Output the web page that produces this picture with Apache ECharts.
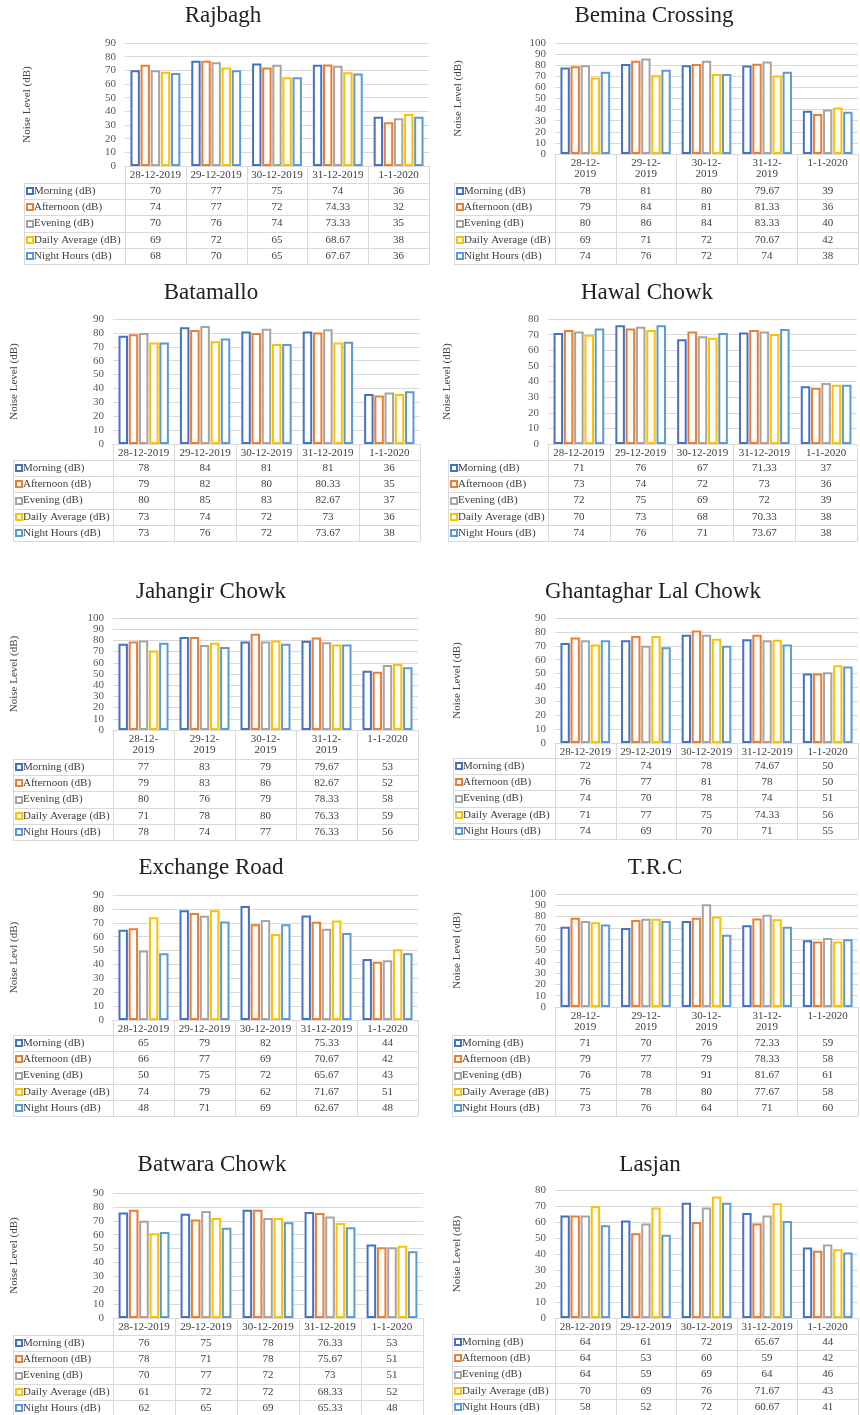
<!DOCTYPE html>
<html>
<head>
<meta charset="utf-8">
<script src="https://cdn.jsdelivr.net/npm/echarts@6/dist/echarts.min.js"></script>
<style>
  html, body { margin: 0; padding: 0; background: #ffffff; }
  #chart { width: 860px; height: 1415px; }
</style>
</head>
<body>
<div id="chart"></div>
<script>
// ---- data ---------------------------------------------------------------
const categories = ['28-12-2019', '29-12-2019', '30-12-2019', '31-12-2019', '1-1-2020'];
const seriesNames = ['Morning (dB)', 'Afternoon (dB)', 'Evening (dB)', 'Daily Average (dB)', 'Night Hours (dB)'];
const siteNames = ['Rajbagh', 'Bemina Crossing', 'Batamallo', 'Hawal Chowk', 'Jahangir Chowk',
                   'Ghantaghar Lal Chowk', 'Exchange Road', 'T.R.C', 'Batwara Chowk', 'Lasjan'];
const axisTitles = ['Noise Level (dB)', 'Noise Level (dB)', 'Noise Level (dB)', 'Noise Level (dB)', 'Noise Level (dB)',
                    'Noise Level (dB)', 'Noise Levl (dB)', 'Noise Level (dB)', 'Noise Level (dB)', 'Noise Level (dB)'];
const axisMax = [90, 100, 90, 80, 100, 90, 90, 100, 90, 80];
const tickStep = 10;

// rows: Morning, Afternoon, Evening, Daily Average, Night Hours
const rajbagh = [
  [70, 77, 75, 74, 36],
  [74, 77, 72, 74.33, 32],
  [70, 76, 74, 73.33, 35],
  [69, 72, 65, 68.67, 38],
  [68, 70, 65, 67.67, 36]
];
const beminaCrossing = [
  [78, 81, 80, 79.67, 39],
  [79, 84, 81, 81.33, 36],
  [80, 86, 84, 83.33, 40],
  [69, 71, 72, 70.67, 42],
  [74, 76, 72, 74, 38]
];
const batamallo = [
  [78, 84, 81, 81, 36],
  [79, 82, 80, 80.33, 35],
  [80, 85, 83, 82.67, 37],
  [73, 74, 72, 73, 36],
  [73, 76, 72, 73.67, 38]
];
const hawalChowk = [
  [71, 76, 67, 71.33, 37],
  [73, 74, 72, 73, 36],
  [72, 75, 69, 72, 39],
  [70, 73, 68, 70.33, 38],
  [74, 76, 71, 73.67, 38]
];
const jahangirChowk = [
  [77, 83, 79, 79.67, 53],
  [79, 83, 86, 82.67, 52],
  [80, 76, 79, 78.33, 58],
  [71, 78, 80, 76.33, 59],
  [78, 74, 77, 76.33, 56]
];
const ghantagharLalChowk = [
  [72, 74, 78, 74.67, 50],
  [76, 77, 81, 78, 50],
  [74, 70, 78, 74, 51],
  [71, 77, 75, 74.33, 56],
  [74, 69, 70, 71, 55]
];
const exchangeRoad = [
  [65, 79, 82, 75.33, 44],
  [66, 77, 69, 70.67, 42],
  [50, 75, 72, 65.67, 43],
  [74, 79, 62, 71.67, 51],
  [48, 71, 69, 62.67, 48]
];
const trc = [
  [71, 70, 76, 72.33, 59],
  [79, 77, 79, 78.33, 58],
  [76, 78, 91, 81.67, 61],
  [75, 78, 80, 77.67, 58],
  [73, 76, 64, 71, 60]
];
const batwaraChowk = [
  [76, 75, 78, 76.33, 53],
  [78, 71, 78, 75.67, 51],
  [70, 77, 72, 73, 51],
  [61, 72, 72, 68.33, 52],
  [62, 65, 69, 65.33, 48]
];
const lasjan = [
  [64, 61, 72, 65.67, 44],
  [64, 53, 60, 59, 42],
  [64, 59, 69, 64, 46],
  [70, 69, 76, 71.67, 43],
  [58, 52, 72, 60.67, 41]
];
const siteValues = [rajbagh, beminaCrossing, batamallo, hawalChowk, jahangirChowk,
                    ghantagharLalChowk, exchangeRoad, trc, batwaraChowk, lasjan];

// ---- styling & panel geometry ---------------------------------------------
const seriesColors = ['#4472C4', '#ED7D31', '#A5A5A5', '#FFC000', '#5B9BD5'];
const FONT = '"Liberation Serif", "Times New Roman", serif';
const GRID_LINE = '#d9d9d9';
const TEXT = '#404040';
const ROW_H = 16.3;

// title centre, plot box (top = max tick, zero = baseline), first table row centre,
// left edge of the table, x of the rotated axis title, and whether date labels wrap
const layout = [
  { titleX: 223, titleY: 16,   top: 43,   zero: 166,  left: 125, right: 429, rows: 191,  tableLeft: 24,  nameX: 27,  wrap: false },
  { titleX: 654, titleY: 16,   top: 43,   zero: 154,  left: 555, right: 858, rows: 191,  tableLeft: 454, nameX: 458, wrap: true  },
  { titleX: 211, titleY: 293,  top: 319,  zero: 444,  left: 113, right: 420, rows: 468,  tableLeft: 13,  nameX: 14,  wrap: false },
  { titleX: 647, titleY: 293,  top: 319,  zero: 444,  left: 548, right: 857, rows: 468,  tableLeft: 448, nameX: 447, wrap: false },
  { titleX: 211, titleY: 592,  top: 618,  zero: 730,  left: 113, right: 418, rows: 767,  tableLeft: 13,  nameX: 14,  wrap: true  },
  { titleX: 653, titleY: 592,  top: 618,  zero: 743,  left: 555, right: 858, rows: 766,  tableLeft: 453, nameX: 457, wrap: false },
  { titleX: 211, titleY: 868,  top: 895,  zero: 1020, left: 113, right: 418, rows: 1043, tableLeft: 13,  nameX: 14,  wrap: false },
  { titleX: 655, titleY: 868,  top: 894,  zero: 1007, left: 555, right: 858, rows: 1043, tableLeft: 452, nameX: 457, wrap: true  },
  { titleX: 212, titleY: 1165, top: 1193, zero: 1318, left: 113, right: 423, rows: 1343, tableLeft: 13,  nameX: 14,  wrap: false },
  { titleX: 650, titleY: 1165, top: 1190, zero: 1318, left: 555, right: 858, rows: 1342, tableLeft: 452, nameX: 457, wrap: false }
];

// ---- build option -----------------------------------------------------------
const grids = [], xAxes = [], yAxes = [], series = [];

layout.forEach((L, i) => {
  grids.push({
    left: L.left, top: L.top, width: L.right - L.left, height: L.zero - L.top,
    containLabel: false, outerBoundsMode: 'none'
  });
  xAxes.push({
    type: 'category', gridIndex: i, data: categories,
    axisLine: { show: true, lineStyle: { color: GRID_LINE, width: 1 } },
    axisTick: { show: false },
    axisLabel: {
      interval: 0, margin: 4, fontFamily: FONT, fontSize: 11, color: TEXT, lineHeight: 11,
      formatter: v => (L.wrap && v.length > 8) ? v.replace(/-(\d{4})$/, '-\n$1') : v
    },
    splitLine: { show: false }
  });
  yAxes.push({
    type: 'value', gridIndex: i, min: 0, max: axisMax[i], interval: tickStep,
    axisLine: { show: false }, axisTick: { show: false },
    axisLabel: { margin: 9, fontFamily: FONT, fontSize: 11, color: '#595959' },
    splitLine: { show: true, lineStyle: { color: GRID_LINE, width: 1 } }
  });
  seriesNames.forEach((name, s) => {
    series.push({
      type: 'bar', name, xAxisIndex: i, yAxisIndex: i,
      data: siteValues[i][s],
      barGap: '8%', barCategoryGap: '18%',
      itemStyle: { color: '#ffffff', borderColor: seriesColors[s], borderWidth: 2 },
      silent: true
    });
  });
});

const chart = echarts.init(document.getElementById('chart'), null, { renderer: 'canvas' });
chart.setOption({
  animation: false,
  backgroundColor: '#ffffff',
  grid: grids, xAxis: xAxes, yAxis: yAxes, series
});

// ---- titles, axis titles and the data tables under each plot -------------
const crisp = v => Math.round(v) + 0.5;
const hLine = (x1, x2, y) => ({
  type: 'line', silent: true,
  shape: { x1: x1, y1: crisp(y), x2: x2, y2: crisp(y) },
  style: { stroke: GRID_LINE, lineWidth: 1 }
});
const vLine = (x, y1, y2) => ({
  type: 'line', silent: true,
  shape: { x1: crisp(x), y1: y1, x2: crisp(x), y2: y2 },
  style: { stroke: GRID_LINE, lineWidth: 1 }
});

const graphics = [];
layout.forEach((L, i) => {
  graphics.push({
    type: 'text', silent: true, x: L.titleX, y: L.titleY,
    style: { text: siteNames[i], font: '23px ' + FONT, fill: '#222222', textAlign: 'center', textVerticalAlign: 'middle' }
  });
  graphics.push({
    type: 'text', silent: true, x: L.nameX, y: (L.top + L.zero) / 2, rotation: Math.PI / 2,
    style: { text: axisTitles[i], font: '11px ' + FONT, fill: TEXT, textAlign: 'center', textVerticalAlign: 'middle' }
  });

  const centers = categories.map(c => chart.convertToPixel({ xAxisIndex: i }, c));
  const band = centers[1] - centers[0];
  const bounds = [centers[0] - band / 2].concat(centers.map(c => c + band / 2));
  const firstTop = L.rows - ROW_H / 2;
  const bottom = L.rows + ROW_H * (seriesNames.length - 0.5);

  bounds.forEach(x => graphics.push(vLine(x, L.zero, bottom)));
  graphics.push(vLine(L.tableLeft, firstTop, bottom));
  for (let r = 0; r <= seriesNames.length; r++) {
    graphics.push(hLine(L.tableLeft, bounds[bounds.length - 1], firstTop + r * ROW_H));
  }

  seriesNames.forEach((name, s) => {
    const cy = L.rows + s * ROW_H;
    graphics.push({
      type: 'rect', silent: true,
      shape: { x: L.tableLeft + 3, y: Math.round(cy) - 3, width: 6, height: 6 },
      style: { fill: '#ffffff', stroke: seriesColors[s], lineWidth: 2 }
    });
    graphics.push({
      type: 'text', silent: true, x: L.tableLeft + 10, y: cy,
      style: { text: name, font: '11px ' + FONT, fill: TEXT, textAlign: 'left', textVerticalAlign: 'middle' }
    });
    siteValues[i][s].forEach((v, c) => {
      graphics.push({
        type: 'text', silent: true, x: centers[c], y: cy,
        style: { text: String(v), font: '11px ' + FONT, fill: TEXT, textAlign: 'center', textVerticalAlign: 'middle' }
      });
    });
  });
});

chart.setOption({ graphic: graphics });
</script>
</body>
</html>
